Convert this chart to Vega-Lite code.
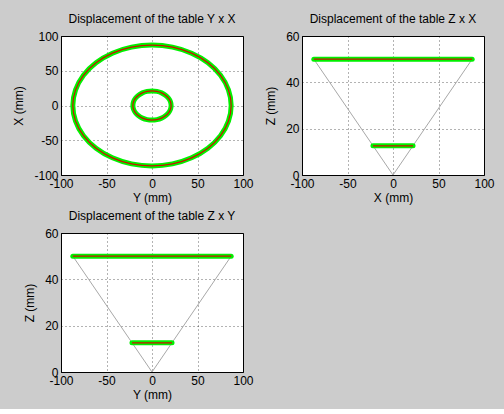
{
  "$schema": "https://vega.github.io/schema/vega-lite/v6.json",
  "background": "#cccccc",
  "padding": {"left": 12, "top": 12, "right": 9, "bottom": 8},
  "columns": 2,
  "spacing": {"column": 10, "row": 5},
  "config": {
    "font": "Liberation Sans",
    "view": {"fill": "white", "stroke": "#000000", "strokeWidth": 1},
    "axis": {
      "labelFont": "Liberation Sans", "labelFontSize": 12, "labelColor": "#000000",
      "titleFont": "Liberation Sans", "titleFontSize": 12, "titleFontWeight": "normal", "titleColor": "#000000",
      "grid": true, "gridColor": "#000000", "gridDash": [1, 3], "gridOpacity": 0.6,
      "ticks": false, "labelPadding": 3, "labelFlush": false, "labelOverlap": false, "labelBound": false,
      "domainColor": "#000000",
      "labelExpr": "'' + datum.value"
    },
    "axisX": {"titlePadding": 3},
    "axisY": {"titlePadding": 8},
    "title": {"font": "Liberation Sans", "fontSize": 12, "fontWeight": "normal", "color": "#000000", "offset": 0}
  },
  "concat": [
    {
      "title": "Displacement of the table Y x X",
      "width": 182, "height": 139,
      "data": {"values": [
        {"ring": "outer", "i": 0, "y_mm": 87, "x_mm": 0},
        {"ring": "outer", "i": 1, "y_mm": 84.0, "x_mm": 22.5},
        {"ring": "outer", "i": 2, "y_mm": 75.3, "x_mm": 43.5},
        {"ring": "outer", "i": 3, "y_mm": 61.5, "x_mm": 61.5},
        {"ring": "outer", "i": 4, "y_mm": 43.5, "x_mm": 75.3},
        {"ring": "outer", "i": 5, "y_mm": 22.5, "x_mm": 84.0},
        {"ring": "outer", "i": 6, "y_mm": 0, "x_mm": 87},
        {"ring": "outer", "i": 7, "y_mm": -22.5, "x_mm": 84.0},
        {"ring": "outer", "i": 8, "y_mm": -43.5, "x_mm": 75.3},
        {"ring": "outer", "i": 9, "y_mm": -61.5, "x_mm": 61.5},
        {"ring": "outer", "i": 10, "y_mm": -75.3, "x_mm": 43.5},
        {"ring": "outer", "i": 11, "y_mm": -84.0, "x_mm": 22.5},
        {"ring": "outer", "i": 12, "y_mm": -87, "x_mm": 0},
        {"ring": "outer", "i": 13, "y_mm": -84.0, "x_mm": -22.5},
        {"ring": "outer", "i": 14, "y_mm": -75.3, "x_mm": -43.5},
        {"ring": "outer", "i": 15, "y_mm": -61.5, "x_mm": -61.5},
        {"ring": "outer", "i": 16, "y_mm": -43.5, "x_mm": -75.3},
        {"ring": "outer", "i": 17, "y_mm": -22.5, "x_mm": -84.0},
        {"ring": "outer", "i": 18, "y_mm": 0, "x_mm": -87},
        {"ring": "outer", "i": 19, "y_mm": 22.5, "x_mm": -84.0},
        {"ring": "outer", "i": 20, "y_mm": 43.5, "x_mm": -75.3},
        {"ring": "outer", "i": 21, "y_mm": 61.5, "x_mm": -61.5},
        {"ring": "outer", "i": 22, "y_mm": 75.3, "x_mm": -43.5},
        {"ring": "outer", "i": 23, "y_mm": 84.0, "x_mm": -22.5},
        {"ring": "inner", "i": 0, "y_mm": 21, "x_mm": 0},
        {"ring": "inner", "i": 1, "y_mm": 20.3, "x_mm": 5.4},
        {"ring": "inner", "i": 2, "y_mm": 18.2, "x_mm": 10.5},
        {"ring": "inner", "i": 3, "y_mm": 14.8, "x_mm": 14.8},
        {"ring": "inner", "i": 4, "y_mm": 10.5, "x_mm": 18.2},
        {"ring": "inner", "i": 5, "y_mm": 5.4, "x_mm": 20.3},
        {"ring": "inner", "i": 6, "y_mm": 0, "x_mm": 21},
        {"ring": "inner", "i": 7, "y_mm": -5.4, "x_mm": 20.3},
        {"ring": "inner", "i": 8, "y_mm": -10.5, "x_mm": 18.2},
        {"ring": "inner", "i": 9, "y_mm": -14.8, "x_mm": 14.8},
        {"ring": "inner", "i": 10, "y_mm": -18.2, "x_mm": 10.5},
        {"ring": "inner", "i": 11, "y_mm": -20.3, "x_mm": 5.4},
        {"ring": "inner", "i": 12, "y_mm": -21, "x_mm": 0},
        {"ring": "inner", "i": 13, "y_mm": -20.3, "x_mm": -5.4},
        {"ring": "inner", "i": 14, "y_mm": -18.2, "x_mm": -10.5},
        {"ring": "inner", "i": 15, "y_mm": -14.8, "x_mm": -14.8},
        {"ring": "inner", "i": 16, "y_mm": -10.5, "x_mm": -18.2},
        {"ring": "inner", "i": 17, "y_mm": -5.4, "x_mm": -20.3},
        {"ring": "inner", "i": 18, "y_mm": 0, "x_mm": -21},
        {"ring": "inner", "i": 19, "y_mm": 5.4, "x_mm": -20.3},
        {"ring": "inner", "i": 20, "y_mm": 10.5, "x_mm": -18.2},
        {"ring": "inner", "i": 21, "y_mm": 14.8, "x_mm": -14.8},
        {"ring": "inner", "i": 22, "y_mm": 18.2, "x_mm": -10.5},
        {"ring": "inner", "i": 23, "y_mm": 20.3, "x_mm": -5.4}
      ]},
      "encoding": {
        "x": {"field": "y_mm", "type": "quantitative", "title": "Y (mm)",
              "scale": {"domain": [-100, 100], "nice": false, "zero": false},
              "axis": {"values": [-100, -50, 0, 50, 100]}},
        "y": {"field": "x_mm", "type": "quantitative", "title": "X (mm)",
              "scale": {"domain": [-100, 100], "nice": false, "zero": false},
              "axis": {"values": [-100, -50, 0, 50, 100]}},
        "detail": {"field": "ring", "type": "nominal"},
        "order": {"field": "i", "type": "quantitative"}
      },
      "layer": [
        {"mark": {"type": "line", "interpolate": "cardinal-closed", "color": "#00f000", "strokeWidth": 5}},
        {"mark": {"type": "line", "interpolate": "cardinal-closed", "color": "#cc1100", "strokeWidth": 1.2}}
      ]
    },
    {
      "title": "Displacement of the table Z x X",
      "width": 182, "height": 139,
      "data": {"values": [
        {"part": "cone", "i": 0, "x_mm": -87, "z_mm": 50},
        {"part": "cone", "i": 1, "x_mm": 0, "z_mm": 0},
        {"part": "cone", "i": 2, "x_mm": 87, "z_mm": 50},
        {"part": "top", "i": 0, "x_mm": -87, "z_mm": 50},
        {"part": "top", "i": 1, "x_mm": 87, "z_mm": 50},
        {"part": "bottom", "i": 0, "x_mm": -22, "z_mm": 12.6},
        {"part": "bottom", "i": 1, "x_mm": 22, "z_mm": 12.6}
      ]},
      "encoding": {
        "x": {"field": "x_mm", "type": "quantitative", "title": "X (mm)",
              "scale": {"domain": [-100, 100], "nice": false, "zero": false},
              "axis": {"values": [-100, -50, 0, 50, 100]}},
        "y": {"field": "z_mm", "type": "quantitative", "title": "Z (mm)",
              "scale": {"domain": [0, 60], "nice": false},
              "axis": {"values": [0, 20, 40, 60]}},
        "detail": {"field": "part", "type": "nominal"},
        "order": {"field": "i", "type": "quantitative"}
      },
      "layer": [
        {"transform": [{"filter": "datum.part === 'cone'"}],
         "mark": {"type": "line", "color": "#a8a8a8", "strokeWidth": 1}},
        {"transform": [{"filter": "datum.part !== 'cone'"}],
         "mark": {"type": "line", "color": "#00f000", "strokeWidth": 5, "strokeCap": "round"}},
        {"transform": [{"filter": "datum.part !== 'cone'"}],
         "mark": {"type": "line", "color": "#cc1100", "strokeWidth": 1.2}}
      ]
    },
    {
      "title": "Displacement of the table Z x Y",
      "width": 182, "height": 139,
      "data": {"values": [
        {"part": "cone", "i": 0, "y_mm": -87, "z_mm": 50},
        {"part": "cone", "i": 1, "y_mm": 0, "z_mm": 0},
        {"part": "cone", "i": 2, "y_mm": 87, "z_mm": 50},
        {"part": "top", "i": 0, "y_mm": -87, "z_mm": 50},
        {"part": "top", "i": 1, "y_mm": 87, "z_mm": 50},
        {"part": "bottom", "i": 0, "y_mm": -22, "z_mm": 12.6},
        {"part": "bottom", "i": 1, "y_mm": 22, "z_mm": 12.6}
      ]},
      "encoding": {
        "x": {"field": "y_mm", "type": "quantitative", "title": "Y (mm)",
              "scale": {"domain": [-100, 100], "nice": false, "zero": false},
              "axis": {"values": [-100, -50, 0, 50, 100]}},
        "y": {"field": "z_mm", "type": "quantitative", "title": "Z (mm)",
              "scale": {"domain": [0, 60], "nice": false},
              "axis": {"values": [0, 20, 40, 60]}},
        "detail": {"field": "part", "type": "nominal"},
        "order": {"field": "i", "type": "quantitative"}
      },
      "layer": [
        {"transform": [{"filter": "datum.part === 'cone'"}],
         "mark": {"type": "line", "color": "#a8a8a8", "strokeWidth": 1}},
        {"transform": [{"filter": "datum.part !== 'cone'"}],
         "mark": {"type": "line", "color": "#00f000", "strokeWidth": 5, "strokeCap": "round"}},
        {"transform": [{"filter": "datum.part !== 'cone'"}],
         "mark": {"type": "line", "color": "#cc1100", "strokeWidth": 1.2}}
      ]
    }
  ]
}
